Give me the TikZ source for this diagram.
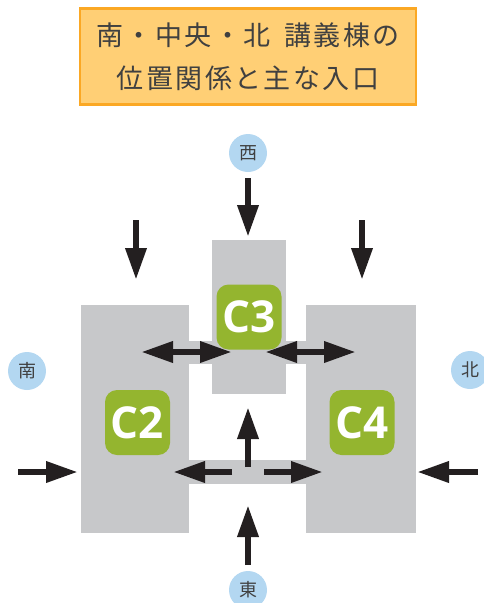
\documentclass[tikz,border=0pt]{standalone}
\usepackage{fontspec}
\setsansfont{Open Sans}
\newfontfamily\cjk[LetterSpace=9]{Noto Sans CJK JP}
\newfontfamily\cjkdir{Noto Sans CJK JP}
\usetikzlibrary{arrows.meta}
\definecolor{wingGray}{HTML}{C7C8CA}
\definecolor{tagGreen}{HTML}{94B52F}
\definecolor{dirBlue}{HTML}{B3D7F1}
\definecolor{titleFill}{HTML}{FFCF75}
\definecolor{titleEdge}{HTML}{FBA824}
\definecolor{inkGray}{HTML}{404040}
\definecolor{arrowInk}{HTML}{231F20}

\begin{document}
\begin{tikzpicture}[
    x=1pt, y=-1pt,
    wing/.style={fill=wingGray, inner sep=0pt, outer sep=0pt},
    bldg/.style={fill=tagGreen, text=white, rounded corners=12pt, minimum width=65pt, minimum height=65pt, inner sep=0pt,
      font=\fontsize{44}{44}\sffamily\bfseries},
    dir/.style={circle, fill=dirBlue, text=inkGray, minimum size=38pt, inner sep=0pt, font=\fontsize{18}{18}\cjkdir},
    entry/.style={-{Triangle[length=32pt, width=20pt]}, line width=6.5pt, arrowInk, shorten >=-2pt},
    both/.style={{Triangle[length=32pt, width=20pt]}-{Triangle[length=32pt, width=20pt]}, line width=6.5pt, arrowInk,
      shorten >=-2pt, shorten <=-2pt}
  ]
\useasboundingbox (0,0) rectangle (484,603);

% Title box
\node (title) [fill=titleFill, draw=titleEdge, line width=2.5pt, text=inkGray, align=center, minimum width=336pt, minimum height=96pt,
    font=\fontsize{27}{43}\cjk] at (248,56.5) {\raisebox{-1.5pt}{南・中央・北\hspace{5pt} 講義棟の}\\\raisebox{-1.5pt}{位置関係と主な入口}};

% Grey wings and links
\node (linkA) [wing, minimum width=117pt, minimum height=23pt] at (247.5,352.5) {};
\node (linkB) [wing, minimum width=117pt, minimum height=24pt] at (247.5,472) {};
\node (south) [wing, minimum width=108pt, minimum height=228pt] at (135,419) {};
\node (north) [wing, minimum width=110pt, minimum height=228pt] at (361,419) {};
\node (centre) [wing, minimum width=74pt, minimum height=154pt] at (249,317) {};

% Building tags
\node (C2) [bldg] at (137.5,422.5) {C2};
\node (C3) [bldg] at (249,317) {C3};
\node (C4) [bldg] at (362,422.5) {C4};

% Compass labels
\node (west) [dir] at (248,153) {西};
\node (s) [dir] at (27,371) {南};
\node (n) [dir] at (470,370) {北};
\node (east) [dir] at (248,590) {東};

% Arrow ends
\coordinate (wA) at (248,178);
\coordinate (wB) at (248,235);
\coordinate (sA) at (136,220);
\coordinate (sB) at (136,278);
\coordinate (nA) at (362,220);
\coordinate (nB) at (362,278);
\coordinate (lA) at (18,472);
\coordinate (lB) at (76,472);
\coordinate (rA) at (478,472);
\coordinate (rB) at (419,472);
\coordinate (bA) at (248,565);
\coordinate (bB) at (248,507);
\coordinate (mA) at (248,467);
\coordinate (mB) at (248,409);
\coordinate (mlA) at (232,472);
\coordinate (mlB) at (175,472);
\coordinate (mrA) at (264,472);
\coordinate (mrB) at (321,472);
\coordinate (dlA) at (143,352);
\coordinate (dlB) at (230,352);
\coordinate (drA) at (267,352);
\coordinate (drB) at (354,352);

% Entrances
\foreach \a/\b in {wA/wB, sA/sB, nA/nB, lA/lB, rA/rB, bA/bB, mA/mB, mlA/mlB, mrA/mrB} {
    \draw[entry] (\a) -- (\b);
}
\draw[both] (dlA) -- (dlB);
\draw[both] (drA) -- (drB);

\end{tikzpicture}
\end{document}
